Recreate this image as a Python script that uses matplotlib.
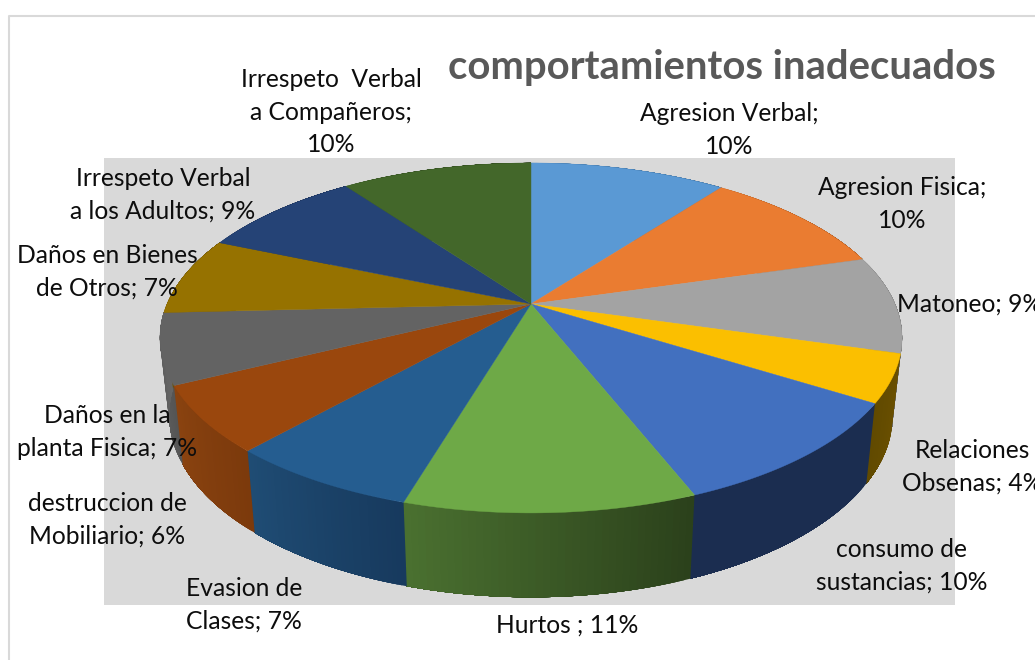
import numpy as np
import matplotlib
matplotlib.use("Agg")
import matplotlib.pyplot as plt
from matplotlib.colors import to_rgb
from matplotlib.patches import Polygon, Rectangle

# ---- data ----
title = "comportamientos inadecuados"
names = ["Agresion Verbal;\n", "Agresion Fisica;\n", "Matoneo; ", "Relaciones\nObsenas; ",
         "consumo de\nsustancias; ", "Hurtos ; ", "Evasion de\nClases; ", "destruccion de\nMobiliario; ",
         "Daños en la\nplanta Fisica; ", "Daños en Bienes\nde Otros; ", "Irrespeto Verbal\na los Adultos; ",
         "Irrespeto  Verbal\na Compañeros;\n"]
percent_labels = ["10%", "10%", "9%", "4%", "10%", "11%", "7%", "6%", "7%", "7%", "9%", "10%"]
values = [10.3, 10.2, 9.0, 4.4, 10.1, 10.6, 7.0, 6.1, 6.5, 7.2, 8.6, 10.0]

# ---- styles ----
top_colors = ["#5a99d4", "#ea7c31", "#a3a3a3", "#fbbf00", "#4270bf", "#6ea947",
              "#255d90", "#9a470d", "#636363", "#967200", "#254376", "#43672a"]
wall_from = ["#3a6a96", "#a05520", "#6f6f6f", "#6b5000", "#1b2d50", "#2b411b",
             "#173a5e", "#7c3a0c", "#555555", "#6b5000", "#1b2d50", "#2b411b"]
wall_to = ["#3a6a96", "#a05520", "#6f6f6f", "#614a00", "#1b2d50", "#4a7030",
           "#1f4c74", "#8a4310", "#666666", "#6b5000", "#1b2d50", "#2b411b"]
label_xy = [(729, 130, "center"), (902, 204, "center"), (897, 304, "left"), (972, 467, "center"),
            (902, 566, "center"), (567, 625, "center"), (244, 605, "center"), (107, 520, "center"),
            (107, 432, "center"), (107, 272, "center"), (163, 195, "center"), (331, 112, "center")]

CX, CY = 531, 304
A, B, P = 364.0, 168.4, 0.194
SX, SY, DROP = 0.975, 1.04, 76


def project(theta):
    X, Y = np.sin(theta), -np.cos(theta)
    w = 1 - P * Y
    return CX + A * X / w, CY + B * Y / w


def lower(x, y):
    return CX + SX * (x - CX), CY + DROP + SY * (y - CY)


fig = plt.figure(figsize=(10.35, 6.6), dpi=100, facecolor="white")
ax = fig.add_axes([0, 0, 1, 1])
ax.set_xlim(0, 1035)
ax.set_ylim(660, 0)
ax.axis("off")

ax.plot([9, 9, 1035], [660, 16, 16], color="#d9d9d9", lw=1.5, zorder=1)
ax.add_patch(Rectangle((104, 158), 851, 447, fc="#d9d9d9", ec="none", zorder=1))

fractions = np.array(values) / np.sum(values)
edges = np.concatenate([[0], np.cumsum(fractions)]) * 2 * np.pi

# side wall: overlapping strips give a smooth shade, then the top surface
for i in range(len(values)):
    th = np.linspace(edges[i], edges[i + 1], 41)
    c0, c1 = np.array(to_rgb(wall_from[i])), np.array(to_rgb(wall_to[i]))
    n = len(th)
    for j in range(n - 1):
        col = c0 + (c1 - c0) * j / (n - 2)
        seg = th[j:n]  # each strip reaches to the end of the wedge and is painted over by the next
        x, y = project(seg)
        xb, yb = lower(x, y)
        pts = np.column_stack([np.r_[x, xb[::-1]], np.r_[y, yb[::-1]]])
        ax.add_patch(Polygon(pts, closed=True, fc=col, ec="none", zorder=2))

for i in range(len(values)):
    th = np.linspace(edges[i], edges[i + 1], 61)
    x, y = project(th)
    pts = np.column_stack([np.r_[CX, x], np.r_[CY, y]])
    ax.add_patch(Polygon(pts, closed=True, fc=top_colors[i], ec=top_colors[i], lw=0.3, zorder=3))

for name, pct, (lx, ly, ha) in zip(names, percent_labels, label_xy):
    ax.text(lx, ly, name + pct, family="Lato", fontsize=17.7, color="#0d0d0d", ha=ha, va="center",
            ma="center", linespacing=1.48, zorder=5, clip_on=True)

ax.text(722, 68, title, family="Lato", fontweight="bold", fontsize=28.85, color="#595959",
        ha="center", va="center", zorder=5)

fig.savefig("out.png", dpi=100)
